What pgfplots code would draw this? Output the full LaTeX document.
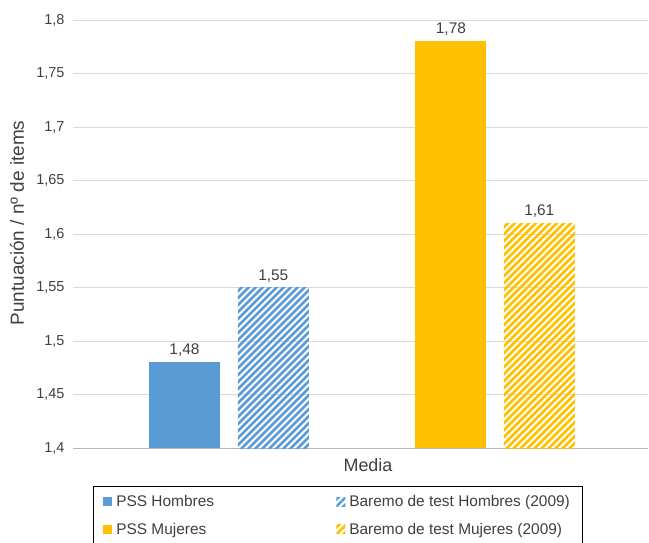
\documentclass[border=0pt]{standalone}
\usepackage{pgfplots}
\pgfplotsset{compat=1.18}
\usepackage{fontspec}
\setmainfont{Liberation Sans}
\usetikzlibrary{patterns}
\definecolor{cblue}{HTML}{5B9BD5}
\definecolor{cgold}{HTML}{FFC000}
\definecolor{ctext}{HTML}{404040}
\definecolor{cgrid}{HTML}{D9D9D9}
\pgfdeclarepatternformonly{hatch}{\pgfqpoint{0pt}{0pt}}{\pgfqpoint{7pt}{7pt}}{\pgfqpoint{7pt}{7pt}}{
  \pgfsetlinewidth{2.6pt}
  \pgfpathmoveto{\pgfqpoint{-1pt}{-1pt}}\pgfpathlineto{\pgfqpoint{8pt}{8pt}}\pgfusepath{stroke}
  \pgfpathmoveto{\pgfqpoint{-1pt}{6pt}}\pgfpathlineto{\pgfqpoint{1pt}{8pt}}\pgfusepath{stroke}
  \pgfpathmoveto{\pgfqpoint{6pt}{-1pt}}\pgfpathlineto{\pgfqpoint{8pt}{1pt}}\pgfusepath{stroke}
}
\begin{document}
\begin{tikzpicture}
\begin{axis}[
  at={(0,0)}, anchor=south west,
  scale only axis, width=575bp, height=428bp,
  xmin=0, xmax=575, ymin=1.4, ymax=1.8,
  ytick={1.4,1.45,...,1.81},
  xtick=\empty,
  axis x line*=bottom, axis y line*=left,
  y axis line style={draw=none},
  x axis line style={draw=cgrid!85!black, line width=0.8bp, -},
  ymajorgrids, grid style={draw=cgrid, line width=0.8bp},
  major tick length=0pt,
  yticklabel style={font=\fontsize{14.5}{17}\selectfont, text=ctext, xshift=-5bp},
  /pgf/number format/use comma,
  /pgf/number format/assume math mode=true,
  ylabel={Puntuación / nº de items},
  ylabel style={font=\fontsize{19}{22}\selectfont, text=ctext, at={(-56bp,225bp)}, anchor=center},
  xlabel={Media},
  xlabel style={font=\fontsize{18}{20}\selectfont, text=ctext, at={(295bp,-17bp)}, anchor=center},
  ybar, bar width=71, bar shift=0pt,
  nodes near coords,
  nodes near coords style={font=\fontsize{15.5}{17}\selectfont, text=ctext, yshift=2bp,
    /pgf/number format/fixed, /pgf/number format/precision=2},
  clip=false,
  legend columns=2,
  legend style={at={(20bp,-38bp)}, anchor=north west, draw=black, line width=0.6bp,
    font=\fontsize{15.5}{17}\selectfont, text=ctext, inner xsep=10bp, inner ysep=7bp,
    row sep=11bp, /tikz/every odd column/.append style={column sep=2bp}},
  legend cell align=left,
]
\addplot[draw=none, fill=cblue, legend image code/.code={\fill[cblue] (0bp,-4.5bp) rectangle (9bp,4.5bp);}]
  coordinates {(111.5,1.48)};
\addlegendentry{\makebox[218bp][l]{PSS Hombres}}
\addplot[draw=none, pattern=hatch, pattern color=cblue,
  legend image code/.code={\fill[pattern=hatch, pattern color=cblue] (0bp,-4.5bp) rectangle (9bp,4.5bp);}]
  coordinates {(200.3,1.55)};
\addlegendentry{Baremo de test Hombres (2009)}
\addplot[draw=none, fill=cgold, legend image code/.code={\fill[cgold] (0bp,-4.5bp) rectangle (9bp,4.5bp);}]
  coordinates {(377.9,1.78)};
\addlegendentry{\makebox[218bp][l]{PSS Mujeres}}
\addplot[draw=none, pattern=hatch, pattern color=cgold,
  legend image code/.code={\fill[pattern=hatch, pattern color=cgold] (0bp,-4.5bp) rectangle (9bp,4.5bp);}]
  coordinates {(466.3,1.61)};
\addlegendentry{Baremo de test Mujeres (2009)}
\end{axis}
\pgfresetboundingbox
\path[use as bounding box] (-73bp,-95bp) rectangle (576bp,448bp);
\end{tikzpicture}
\end{document}
